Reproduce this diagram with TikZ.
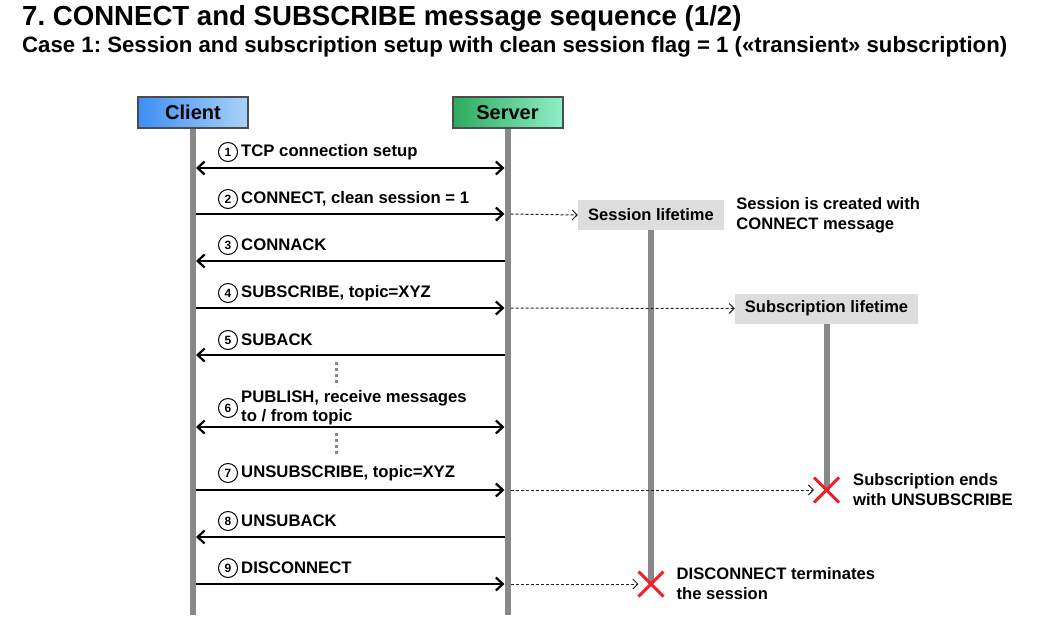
\documentclass[tikz,border=0pt]{standalone}
\usepackage{fontspec}
\setmainfont{Liberation Sans}
\usetikzlibrary{arrows.meta,positioning,shapes.misc}
\definecolor{ClientBlue}{HTML}{3D8EF5}
\definecolor{ClientLight}{HTML}{AAD2F9}
\definecolor{ServerGreen}{HTML}{2DAA5E}
\definecolor{ServerLight}{HTML}{8EEFC6}
\definecolor{LineGray}{HTML}{888888}
\definecolor{BoxGray}{HTML}{DDDDDD}
\definecolor{CrossRed}{HTML}{F0202A}
\frenchspacing
\tikzset{
    % Headers of the two parties
    header/.style={
        rectangle,
        draw=black!70,
        line width=2pt,
        minimum width=110pt,
        minimum height=31pt,
        font=\fontsize{20}{24}\selectfont\bfseries
    },
    client header/.style={
        header,
        left color=ClientBlue,
        right color=ClientLight
    },
    server header/.style={
        header,
        left color=ServerGreen,
        right color=ServerLight
    },
    lifeline/.style={
        draw=LineGray,
        line width=6pt
    },
    pause dots/.style={
        draw=LineGray,
        line width=3pt,
        dash pattern=on 3pt off 3pt
    },
    msg/.style={
        -{Straight Barb[length=7pt,width=13pt]},
        line width=2.2pt,
        shorten >=3pt,
        shorten <=3pt
    },
    msg both/.style={
        msg,
        {Straight Barb[length=7pt,width=13pt]}-{Straight Barb[length=7pt,width=13pt]}
    },
    hint/.style={
        -{Straight Barb[length=5pt,width=10pt]},
        dash pattern=on 3pt off 2pt,
        line width=1pt,
        draw=black!85,
        shorten <=3pt
    },
    stepno/.style={
        circle,
        draw,
        line width=1pt,
        minimum size=19pt,
        inner sep=0pt,
        font=\fontsize{12}{12}\selectfont\bfseries
    },
    msg label/.style={
        inner sep=0pt,
        align=left,
        font=\fontsize{16.7}{19}\selectfont\bfseries
    },
    lifetime/.style={
        rectangle,
        fill=BoxGray,
        minimum height=30pt,
        font=\fontsize{16.5}{19}\selectfont\bfseries
    },
    note/.style={
        inner sep=0pt,
        align=left,
        font=\fontsize{16.6}{20}\selectfont\bfseries
    },
    endmark/.style={
        cross out,
        draw=CrossRed,
        line width=3pt,
        minimum size=22pt,
        inner sep=0pt
    }
}

\begin{document}
\begin{tikzpicture}[x=1pt, y=-1pt]
    \useasboundingbox (0,0) rectangle (1042,632);

    % Titles
    \node[anchor=west, inner sep=0pt, font=\fontsize{27.6}{31}\selectfont\bfseries] (title) at (22,18)
          {7. CONNECT and SUBSCRIBE message sequence (1/2)};
    \node[anchor=west, inner sep=0pt, font=\fontsize{22.2}{25}\selectfont\bfseries] (subtitle) at (22,47)
          {Case 1: Session and subscription setup with clean session flag = 1 («transient» subscription)};

    % Parties and lifelines
    \node[client header] (client) at (193,112.5) {Client};
    \node[server header] (server) at (507.5,112.5) {Server};
    \coordinate (bottom) at (0,615);
    \draw[lifeline] (client.south) -- (client |- bottom);
    \draw[lifeline] (server.south) -- (server |- bottom);

    % Lifetime boxes
    \node[lifetime, minimum width=146pt] (session) at (651,215) {Session lifetime};
    \node[lifetime, minimum width=183pt] (subscr) at (826.5,308.5) {Subscription lifetime};
    \coordinate (sesend) at (651,584);
    \coordinate (subend) at (826.5,490);
    \draw[lifeline] (session.south) -- (sesend);
    \draw[lifeline] (subscr.south) -- (subend);
    \node[endmark] (sesx) at (sesend) {};
    \node[endmark] (subx) at (subend) {};

    % Rows of the messages
    \foreach \i/\y in {1/168,2/214,3/261,4/308,5/355,6/427,7/490,8/537,9/584}
        \coordinate (m\i) at (0,\y);

    % Messages
    \draw[msg both] (client |- m1) -- (server |- m1);
    \draw[msg] (client |- m2) -- (server |- m2);
    \draw[msg] (server |- m3) -- (client |- m3);
    \draw[msg] (client |- m4) -- (server |- m4);
    \draw[msg] (server |- m5) -- (client |- m5);
    \draw[msg both] (client |- m6) -- (server |- m6);
    \draw[msg] (client |- m7) -- (server |- m7);
    \draw[msg] (server |- m8) -- (client |- m8);
    \draw[msg] (client |- m9) -- (server |- m9);

    \draw[pause dots] (336,362) -- (336,386);
    \draw[pause dots] (336,433) -- (336,456);

    % Message labels
    \node[stepno] (n1) at (228,152) {1};
    \node[msg label, right=3pt of n1] (t1) {TCP connection setup};
    \node[stepno] (n2) at (228,199) {2};
    \node[msg label, right=3pt of n2] (t2) {CONNECT, clean session = 1};
    \node[stepno] (n3) at (228,245) {3};
    \node[msg label, right=3pt of n3] (t3) {CONNACK};
    \node[stepno] (n4) at (228,293) {4};
    \node[msg label, right=3pt of n4] (t4) {SUBSCRIBE, topic=XYZ};
    \node[stepno] (n5) at (228,340) {5};
    \node[msg label, right=3pt of n5] (t5) {SUBACK};
    \node[stepno] (n6) at (228,408) {6};
    \node[msg label, right=3pt of n6] (t6) {PUBLISH, receive messages\\to / from topic};
    \node[stepno] (n7) at (228,473) {7};
    \node[msg label, right=3pt of n7] (t7) {UNSUBSCRIBE, topic=XYZ};
    \node[stepno] (n8) at (228,521) {8};
    \node[msg label, right=3pt of n8] (t8) {UNSUBACK};
    \node[stepno] (n9) at (228,568) {9};
    \node[msg label, right=3pt of n9] (t9) {DISCONNECT};

    % Lifetime hints
    \draw[hint] (server |- m2) -- (session.west);
    \draw[hint] (server |- m4) -- (subscr.west);
    \draw[hint] (server |- m7) -- (subx.west);
    \draw[hint] (server |- m9) -- (sesx.west);

    % Notes
    \node[note, right=12pt of session] (sesnote) {Session is created with\\CONNECT message};
    \node[note, right=14pt of subx] (subnote) {Subscription ends\\with UNSUBSCRIBE};
    \node[note, right=13pt of sesx] (endnote) {DISCONNECT terminates\\the session};
\end{tikzpicture}
\end{document}
